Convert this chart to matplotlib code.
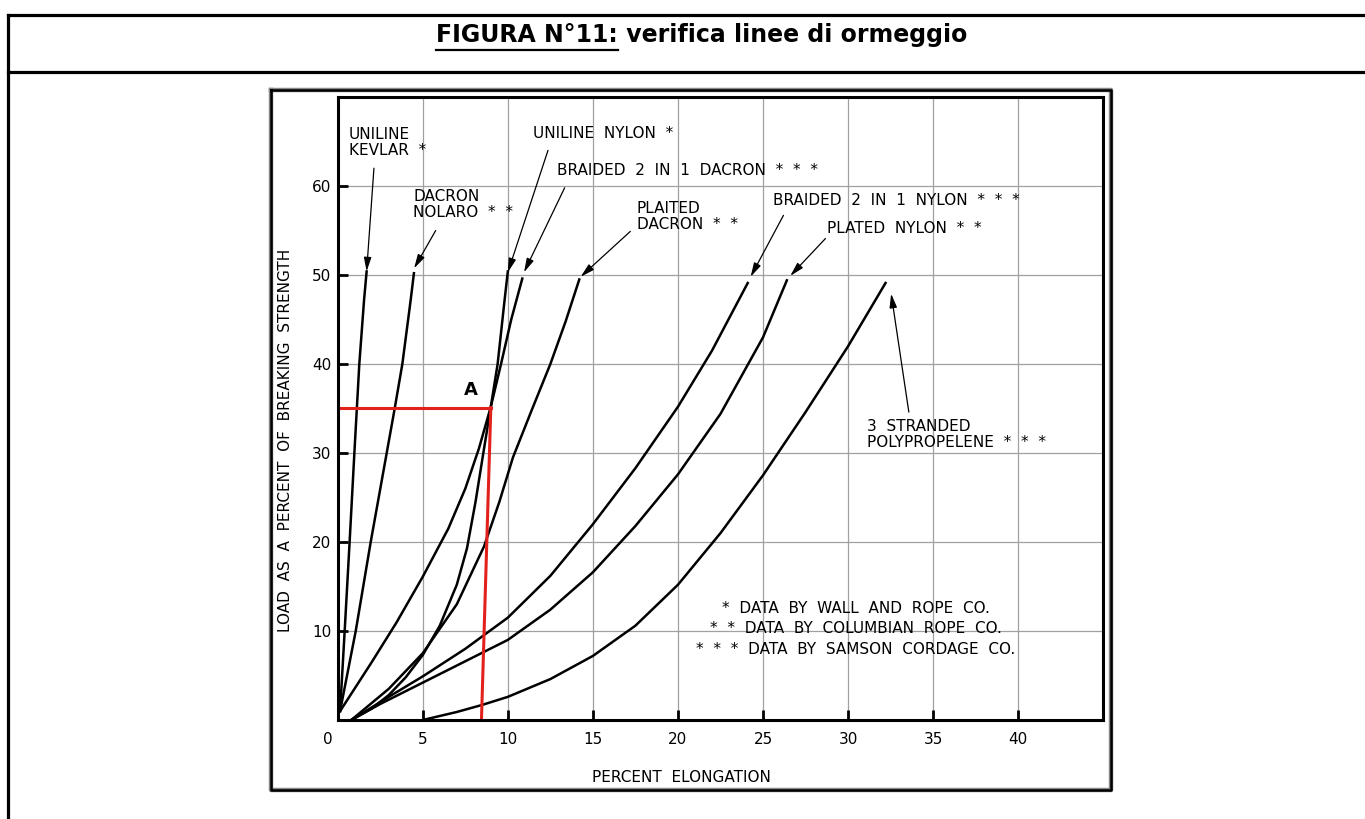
import matplotlib.pyplot as plt
from matplotlib.transforms import ScaledTranslation

plt.rcParams['font.family'] = ['DejaVu Sans']

# curve data (percent elongation, percent of breaking load)
kevlar_x = [0.14, 0.41, 0.7, 0.98, 1.27, 1.55, 1.70]
kevlar_y = [1.0, 10, 20, 30, 40, 47.2, 50.4]

nolaro_x = [0.14, 1.06, 1.94, 2.88, 3.35, 3.8, 4.29, 4.48]
nolaro_y = [1.0, 10, 20, 30, 35, 40, 47.2, 50.2]

uni_nylon_x = [0.8, 2.0, 3.0, 4.0, 5.0, 6.0, 7.0, 7.6, 8.1, 8.56, 9.0, 9.4, 9.81, 10.0]
uni_nylon_y = [0, 1.3, 2.8, 4.8, 7.3, 10.6, 15.2, 19.3, 24.5, 30, 35.2, 40, 47.2, 50.4]

br_dacron_x = [0.14, 2.0, 3.47, 5.0, 6.5, 7.5, 8.3, 9.0, 9.6, 10.2, 10.85]
br_dacron_y = [1.0, 6.5, 11, 16.1, 21.5, 26, 30.5, 35.2, 40, 45, 49.6]

pl_dacron_x = [0.8, 3.0, 5.0, 7.0, 8.6, 9.5, 10.3, 11.4, 12.5, 13.4, 14.2]
pl_dacron_y = [0, 3.5, 7.5, 13, 19.5, 24.5, 29.5, 34.8, 40, 44.8, 49.5]

br_nylon_x = [0.8, 3, 5, 7.5, 10, 12.5, 15, 17.5, 20, 22, 24.1]
br_nylon_y = [0, 2.6, 4.9, 8.0, 11.5, 16.2, 22, 28.3, 35.2, 41.5, 49.1]

pl_nylon_x = [0.8, 2.5, 5, 7.5, 10, 12.5, 15, 17.5, 20, 22.5, 25, 26.4]
pl_nylon_y = [0, 1.8, 4.2, 6.6, 9.0, 12.4, 16.6, 21.8, 27.6, 34.4, 43.0, 49.4]

poly_x = [5, 7, 8.5, 10, 12.5, 15, 17.5, 20, 22.5, 25, 27.5, 30, 32.2]
poly_y = [0, 0.9, 1.7, 2.6, 4.6, 7.2, 10.6, 15.2, 21.0, 27.5, 34.6, 42.0, 49.1]

curves = [(kevlar_x, kevlar_y), (nolaro_x, nolaro_y), (uni_nylon_x, uni_nylon_y),
          (br_dacron_x, br_dacron_y), (pl_dacron_x, pl_dacron_y),
          (br_nylon_x, br_nylon_y), (pl_nylon_x, pl_nylon_y), (poly_x, poly_y)]

# labels: text, text position (left, top), arrow tail, arrow tip
labels = [
    ("UNILINE\nKEVLAR  *", (0.66, 66.6), (2.13, 62.0), (1.70, 50.4)),
    ("DACRON\nNOLARO  *  *", (4.44, 59.7), (5.76, 55.0), (4.49, 50.75)),
    ("UNILINE  NYLON  *", (11.46, 66.7), (12.36, 64.0), (10.0, 50.3)),
    ("BRAIDED  2  IN  1  DACRON  *  *  *", (12.87, 62.6), (13.34, 59.8), (10.95, 50.3)),
    ("PLAITED\nDACRON  *  *", (17.58, 58.3), (17.2, 54.9), (14.28, 49.8)),
    ("BRAIDED  2  IN  1  NYLON  *  *  *", (25.6, 59.25), (26.2, 56.7), (24.27, 49.8)),
    ("PLATED  NYLON  *  *", (28.75, 56.07), (28.67, 54.1), (26.6, 49.9)),
    ("3  STRANDED\nPOLYPROPELENE  *  *  *", (31.13, 33.8), (33.57, 34.6), (32.53, 47.9)),
]

notes = ["*  DATA  BY  WALL  AND  ROPE  CO.",
         "*  *  DATA  BY  COLUMBIAN  ROPE  CO.",
         "*  *  *  DATA  BY  SAMSON  CORDAGE  CO."]
notes_y = [12.02, 9.78, 7.42]

# verification point A
point_a = (9.0, 35.1)
foot_a = 8.45

xticks = [0, 5, 10, 15, 20, 25, 30, 35, 40]
yticks = [10, 20, 30, 40, 50, 60]

W, H = 1365, 819
fig = plt.figure(figsize=(W / 100, H / 100), dpi=100)

# page frame in pixel coordinates
bg = fig.add_axes([0, 0, 1, 1])
bg.set_xlim(0, W)
bg.set_ylim(H, 0)
bg.axis('off')
bg.plot([7.5, W], [15, 15], color='black', lw=2.3)
bg.plot([7.5, W], [72, 72], color='black', lw=2.3)
bg.plot([7.5, 7.5], [15, H], color='black', lw=2.3)
bg.plot([271, 1111, 1111, 271, 271], [89.5, 89.5, 789.5, 789.5, 89.5], color='#888888', lw=3.2)
bg.plot([271, 1111, 1111, 271, 271], [89.5, 89.5, 789.5, 789.5, 89.5], color='black', lw=1.8)

t1 = bg.text(436, 42, "FIGURA N°11:", fontsize=17, fontweight='bold', va='baseline', ha='left')
fig.canvas.draw()
bb = t1.get_window_extent()
bg.text(bb.x1, 42, " verifica linee di ormeggio", fontsize=17, fontweight='bold',
        va='baseline', ha='left')
bg.plot([bb.x0, bb.x1], [50, 50], color='black', lw=1.6)

bg.text(285.5, 440, "LOAD  AS  A  PERCENT  OF  BREAKING  STRENGTH", fontsize=11,
        rotation=90, ha='center', va='center')
bg.text(681, 777, "PERCENT  ELONGATION", fontsize=11, ha='center', va='center')

ax = fig.add_axes([337.7 / W, 1 - 720 / H, (1103.3 - 337.7) / W, (720 - 97) / H])
ax.set_xlim(0, 45)
ax.set_ylim(0, 70)
ax.set_xticks(xticks)
ax.set_yticks(yticks)
ax.grid(True, color='#a0a0a0', lw=0.9)
ax.set_axisbelow(True)
for s in ax.spines.values():
    s.set_linewidth(2.2)
ax.tick_params(direction='in', length=7.5, width=2, labelsize=11)
ax.tick_params(axis='x', pad=9)
ax.tick_params(axis='y', pad=4.7)
lab0 = ax.get_xticklabels()[0]
lab0.set_transform(lab0.get_transform() + ScaledTranslation(-0.10, 0, fig.dpi_scale_trans))

for cx, cy in curves:
    ax.plot(cx, cy, color='black', lw=1.8, solid_joinstyle='round')

for txt, (tx, ty), tail, tip in labels:
    ax.text(tx, ty, txt, fontsize=11, ha='left', va='top', linespacing=1.07)
    ax.annotate('', xy=tip, xytext=tail,
                arrowprops=dict(arrowstyle='-|>,head_length=0.6,head_width=0.16',
                                color='black', lw=0.9, shrinkA=0, shrinkB=0,
                                mutation_scale=14))

for txt, ny in zip(notes, notes_y):
    ax.text(30.45, ny, txt, fontsize=11, ha='center', va='baseline')

red = '#e3211c'
ax.plot([0, point_a[0]], [point_a[1], point_a[1]], color=red, lw=2.2)
ax.plot([point_a[0], foot_a], [point_a[1], 0], color=red, lw=2.2)
ax.text(7.84, 36.5, "A", fontsize=13, fontweight='heavy', ha='center', va='baseline')

fig.savefig('out.png', dpi=100)
